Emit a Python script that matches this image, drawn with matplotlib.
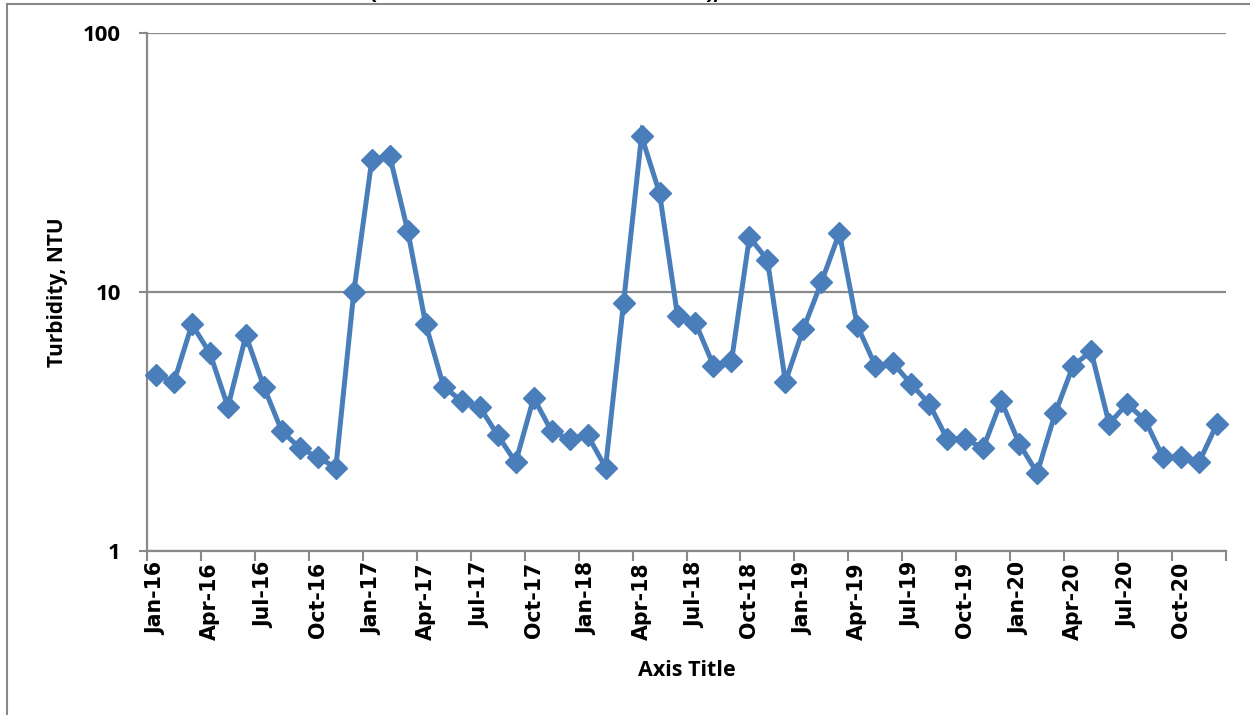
import matplotlib
matplotlib.use("Agg")
import matplotlib.pyplot as plt
from matplotlib.lines import Line2D
from matplotlib.ticker import FixedLocator, NullLocator

# Monthly turbidity readings, Jan 2016 - Dec 2020
turbidity = [4.8, 4.5, 7.5, 5.8, 3.6, 6.8, 4.3, 2.9, 2.5, 2.3, 2.1, 10.0,
             32.3, 33.5, 17.2, 7.5, 4.3, 3.8, 3.6, 2.8, 2.2, 3.9, 2.9, 2.7,
             2.8, 2.1, 9.1, 40.0, 24.1, 8.1, 7.6, 5.2, 5.4, 16.3, 13.3, 4.5,
             7.2, 10.9, 16.9, 7.4, 5.2, 5.3, 4.4, 3.7, 2.7, 2.7, 2.5, 3.8,
             2.6, 2.0, 3.4, 5.2, 5.9, 3.1, 3.7, 3.2, 2.3, 2.3, 2.2, 3.1]

tick_labels = ["Jan-16", "Apr-16", "Jul-16", "Oct-16",
               "Jan-17", "Apr-17", "Jul-17", "Oct-17",
               "Jan-18", "Apr-18", "Jul-18", "Oct-18",
               "Jan-19", "Apr-19", "Jul-19", "Oct-19",
               "Jan-20", "Apr-20", "Jul-20", "Oct-20"]
y_ticks = [1, 10, 100]
y_tick_labels = ["1", "10", "100"]

BLUE = "#4A7EBB"
GRAY = "#898989"
SANS = ["Open Sans", "DejaVu Sans"]

W, H = 1250, 715
fig = plt.figure(figsize=(W / 100, H / 100), dpi=100)
fig.patch.set_facecolor("white")

ax = fig.add_axes([147 / W, 1 - 551 / H, 1079 / W, 518 / H])
x = list(range(len(turbidity)))
ax.plot(x, turbidity, color=BLUE, lw=3.6, marker="D", ms=11.5,
        markerfacecolor=BLUE, markeredgecolor=BLUE, solid_joinstyle="miter",
        zorder=3, clip_on=False)

ax.set_yscale("log")
ax.set_ylim(1, 100)
ax.set_xlim(-0.5, len(turbidity) - 0.5)

ax.yaxis.set_major_locator(FixedLocator(y_ticks))
ax.yaxis.set_minor_locator(NullLocator())
ax.set_yticklabels(y_tick_labels, fontsize=16, fontweight="bold", family=SANS)
ax.tick_params(axis="y", direction="out", length=6, width=1.5, color=GRAY, pad=13)

# tick marks on category boundaries, labels centred on categories
ax.set_xticks([b - 0.5 for b in range(0, len(turbidity) + 1, 3)])
ax.set_xticklabels([])
ax.set_xticks(list(range(0, len(turbidity), 3)), minor=True)
ax.set_xticklabels(tick_labels, minor=True, rotation=90, fontsize=14.8,
                   fontweight="bold", family="DejaVu Sans")
ax.tick_params(axis="x", which="major", direction="out", length=7, width=1.5,
               color=GRAY)
ax.tick_params(axis="x", which="minor", length=0, pad=8)

ax.grid(axis="y", which="major", color=GRAY, lw=1.6)
ax.set_axisbelow(True)
for side in ("top", "right"):
    ax.spines[side].set_visible(False)
for side in ("left", "bottom"):
    ax.spines[side].set_color(GRAY)
    ax.spines[side].set_linewidth(1.6)

ax.set_ylabel("Turbidity, NTU", fontsize=15, fontweight="bold", family=SANS)
ax.yaxis.label.set_verticalalignment("center")
ax.yaxis.set_label_coords(-(147 - 57) / 1079, 0.5)
ax.set_xlabel("Axis Title", fontsize=15.5, fontweight="bold", family=SANS)
ax.xaxis.set_label_coords(0.5, -(670 - 551) / 518)
ax.xaxis.label.set_verticalalignment("center")

# chart-area border
fig.add_artist(Line2D([7 / W, 1.0], [1 - 4 / H, 1 - 4 / H], color=GRAY, lw=1.5))
fig.add_artist(Line2D([7 / W, 7 / W], [0.0, 1 - 4 / H], color=GRAY, lw=1.5))

# title line sits above the visible area; only its lowest strokes show
fig.text(369 / W, 1 + 1.5 / H, "(", fontsize=17, fontweight="bold",
         family=SANS, va="baseline", ha="left")
fig.text(705 / W, 1 + 1.5 / H, "),", fontsize=17, fontweight="bold",
         family=SANS, va="baseline", ha="left")

fig.savefig("out.png", dpi=100)
